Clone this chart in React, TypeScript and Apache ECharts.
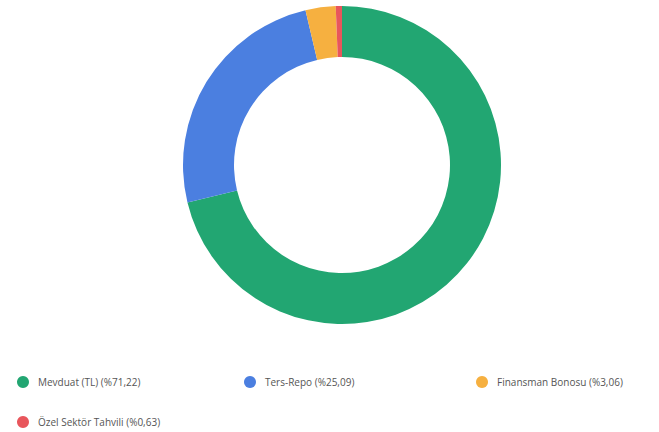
import React, { useEffect, useRef } from "react";
import * as echarts from "echarts";

const categories = ["Mevduat (TL)", "Ters-Repo", "Finansman Bonosu", "Özel Sektör Tahvili"];
const values = [71.22, 25.09, 3.06, 0.63];
const percentLabels = ["71,22", "25,09", "3,06", "0,63"];
const colors = ["#22a672", "#4b7fe0", "#f6b040", "#e8565c"];

const legendPos = [
  { left: 12, top: 371 },
  { left: 239, top: 371 },
  { left: 471, top: 371 },
  { left: 12, top: 411 },
];

export default function App() {
  const ref = useRef<HTMLDivElement>(null);
  useEffect(() => {
    if (!ref.current) return;
    const chart = echarts.init(ref.current, undefined, { renderer: "svg" });
    chart.setOption({
      animation: false,
      color: colors,
      legend: categories.map((name, i) => ({
        data: [name],
        left: legendPos[i].left,
        top: legendPos[i].top,
        icon: "circle",
        itemWidth: 12,
        itemHeight: 12,
        selectedMode: false,
        formatter: (n: string) => `${n} (%${percentLabels[categories.indexOf(n)]})`,
        textStyle: {
          fontFamily: "Open Sans",
          fontSize: 10,
          color: "#555",
          padding: [0, 0, 0, 4],
        },
      })),
      series: [
        {
          type: "pie",
          center: [342, 165],
          radius: [108, 159],
          startAngle: 90,
          clockwise: true,
          label: { show: false },
          labelLine: { show: false },
          emphasis: { disabled: true },
          itemStyle: { borderWidth: 0 },
          data: categories.map((name, i) => ({ name, value: values[i] })),
        },
      ],
    });
    return () => chart.dispose();
  }, []);
  return (
    <div
      ref={ref}
      style={{ position: "fixed", left: 0, top: 0, width: 659, height: 432, background: "#fff" }}
    />
  );
}
